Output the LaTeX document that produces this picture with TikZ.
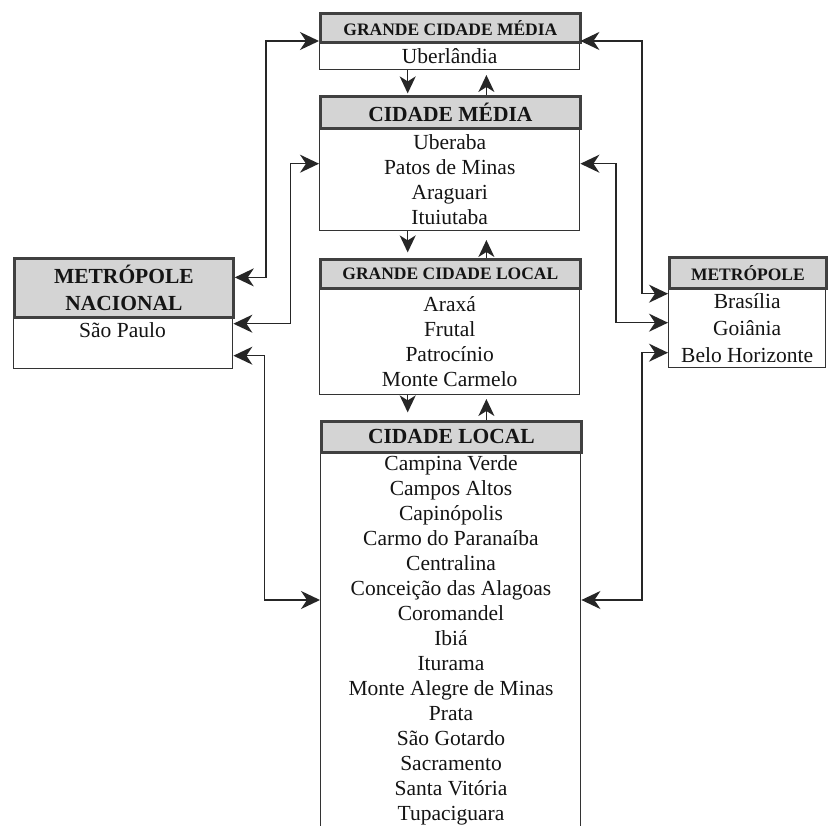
\documentclass[tikz,border=0pt]{standalone}
\usepackage{fontspec}
\setmainfont{Liberation Serif}
\usetikzlibrary{arrows.meta,calc}
\begin{document}
\begin{tikzpicture}[x=1pt,y=-1pt,
  head/.style={draw=black!75, line width=2.8pt, fill=black!17, inner sep=0pt, anchor=north west, text=black!92, align=center},
  bighead/.style={head, font=\fontsize{21.5}{27}\selectfont\bfseries},
  smallhead/.style={head, font=\fontsize{17.5}{21}\selectfont\bfseries},
  body/.style={draw=black!80, line width=1.4pt, fill=white, inner sep=0pt, anchor=north west, align=center, text=black!92, font=\fontsize{21.5}{25}\selectfont},
  txt/.style={align=center, text=black!92, inner sep=0pt, font=\fontsize{21.5}{25}\selectfont},
  link/.style={draw=black!85, line width=1.5pt, arrows={Stealth[length=19pt,width=18pt,inset=6pt]-Stealth[length=19pt,width=18pt,inset=6pt]}},
  vlink/.style={draw=black!85, line width=1.5pt, arrows={-Stealth[length=17pt,width=16pt,inset=5pt]}}
]
\fill[white] (0,0) rectangle (828,826);
\useasboundingbox (0,0) rectangle (828,826);

% Grande cidade media
\node[body, minimum width=260pt, minimum height=28pt] (gcmbody) at (319,41) {Uberlândia};
\node[smallhead, minimum width=260pt, minimum height=29pt] (gcmhead) at (319,12) {GRANDE CIDADE MÉDIA};

% Cidade media
\node[body, minimum width=260pt, minimum height=103pt] (cmbody) at (319,127) {Uberaba\\Patos de Minas\\Araguari\\Ituiutaba};
\node[bighead, minimum width=260pt, minimum height=32pt] (cmhead) at (319,95) {CIDADE MÉDIA};

% Grande cidade local
\node[body, minimum width=260pt, minimum height=107pt] (gclbody) at (319,287) {Araxá\\Frutal\\Patrocínio\\Monte Carmelo};
\node[smallhead, minimum width=260pt, minimum height=29pt] (gclhead) at (319,258) {GRANDE CIDADE LOCAL};

% Cidade local
\node[body, minimum width=260pt, minimum height=409pt] (clbody) at (320,451) {};
\node[bighead, minimum width=260pt, minimum height=31pt] (clhead) at (320,420) {CIDADE LOCAL};
\node[txt] (cltext) at (451,640) {Campina Verde\\Campos Altos\\Capinópolis\\Carmo do Paranaíba\\Centralina\\Conceição das Alagoas\\Coromandel\\Ibiá\\Iturama\\Monte Alegre de Minas\\Prata\\São Gotardo\\Sacramento\\Santa Vitória\\Tupaciguara};

% Metropole nacional
\node[body, minimum width=219pt, minimum height=52pt] (mnbody) at (13,316) {};
\node[bighead, minimum width=219pt, minimum height=59pt] (mnhead) at (13,257) {METRÓPOLE\\NACIONAL};
\node[txt] (mntext) at (122.5,330) {São Paulo};

% Metropole
\node[body, minimum width=157pt, minimum height=80pt, font=\fontsize{21.5}{27}\selectfont] (mbody) at (668,287) {Brasília\\Goiânia\\Belo Horizonte};
\node[smallhead, minimum width=157pt, minimum height=31pt] (mhead) at (668,256) {METRÓPOLE};

% vertical arrows
\draw[vlink] ([xshift=-42pt]gcmbody.south) -- ++(0,23);
\draw[vlink] ([xshift=36pt]cmhead.north) -- ++(0,-20);
\draw[vlink] ([xshift=-42pt]cmbody.south) -- ++(0,21);
\draw[vlink] ([xshift=36pt]gclhead.north) -- ++(0,-18);
\draw[vlink] ([xshift=-42pt]gclbody.south) -- ++(0,17);
\draw[vlink] ([xshift=35pt]clhead.north) -- ++(0,-21);

% left connectors
\draw[link] ([yshift=10.5pt]mnhead.east) -- ++(31,0) |- (gcmbody.north west);
\draw[link] ([yshift=19pt]mnbody.east) -- ++(57,0) |- ([yshift=15.5pt]cmbody.west);
\draw[link] ([yshift=-13pt]mnbody.east) -- ++(31,0) |- ([yshift=-149pt]clbody.north west);

% right connectors
\draw[link] ([yshift=34pt]mbody.west) -- ++(-26,0) |- (gcmbody.north east);
\draw[link] ([yshift=5pt]mbody.west) -- ++(-52,0) |- ([yshift=15.5pt]cmbody.east);
\draw[link] ([yshift=-25pt]mbody.west) -- ++(-26,0) |- ([yshift=-149pt]clbody.north east);
\end{tikzpicture}
\end{document}
